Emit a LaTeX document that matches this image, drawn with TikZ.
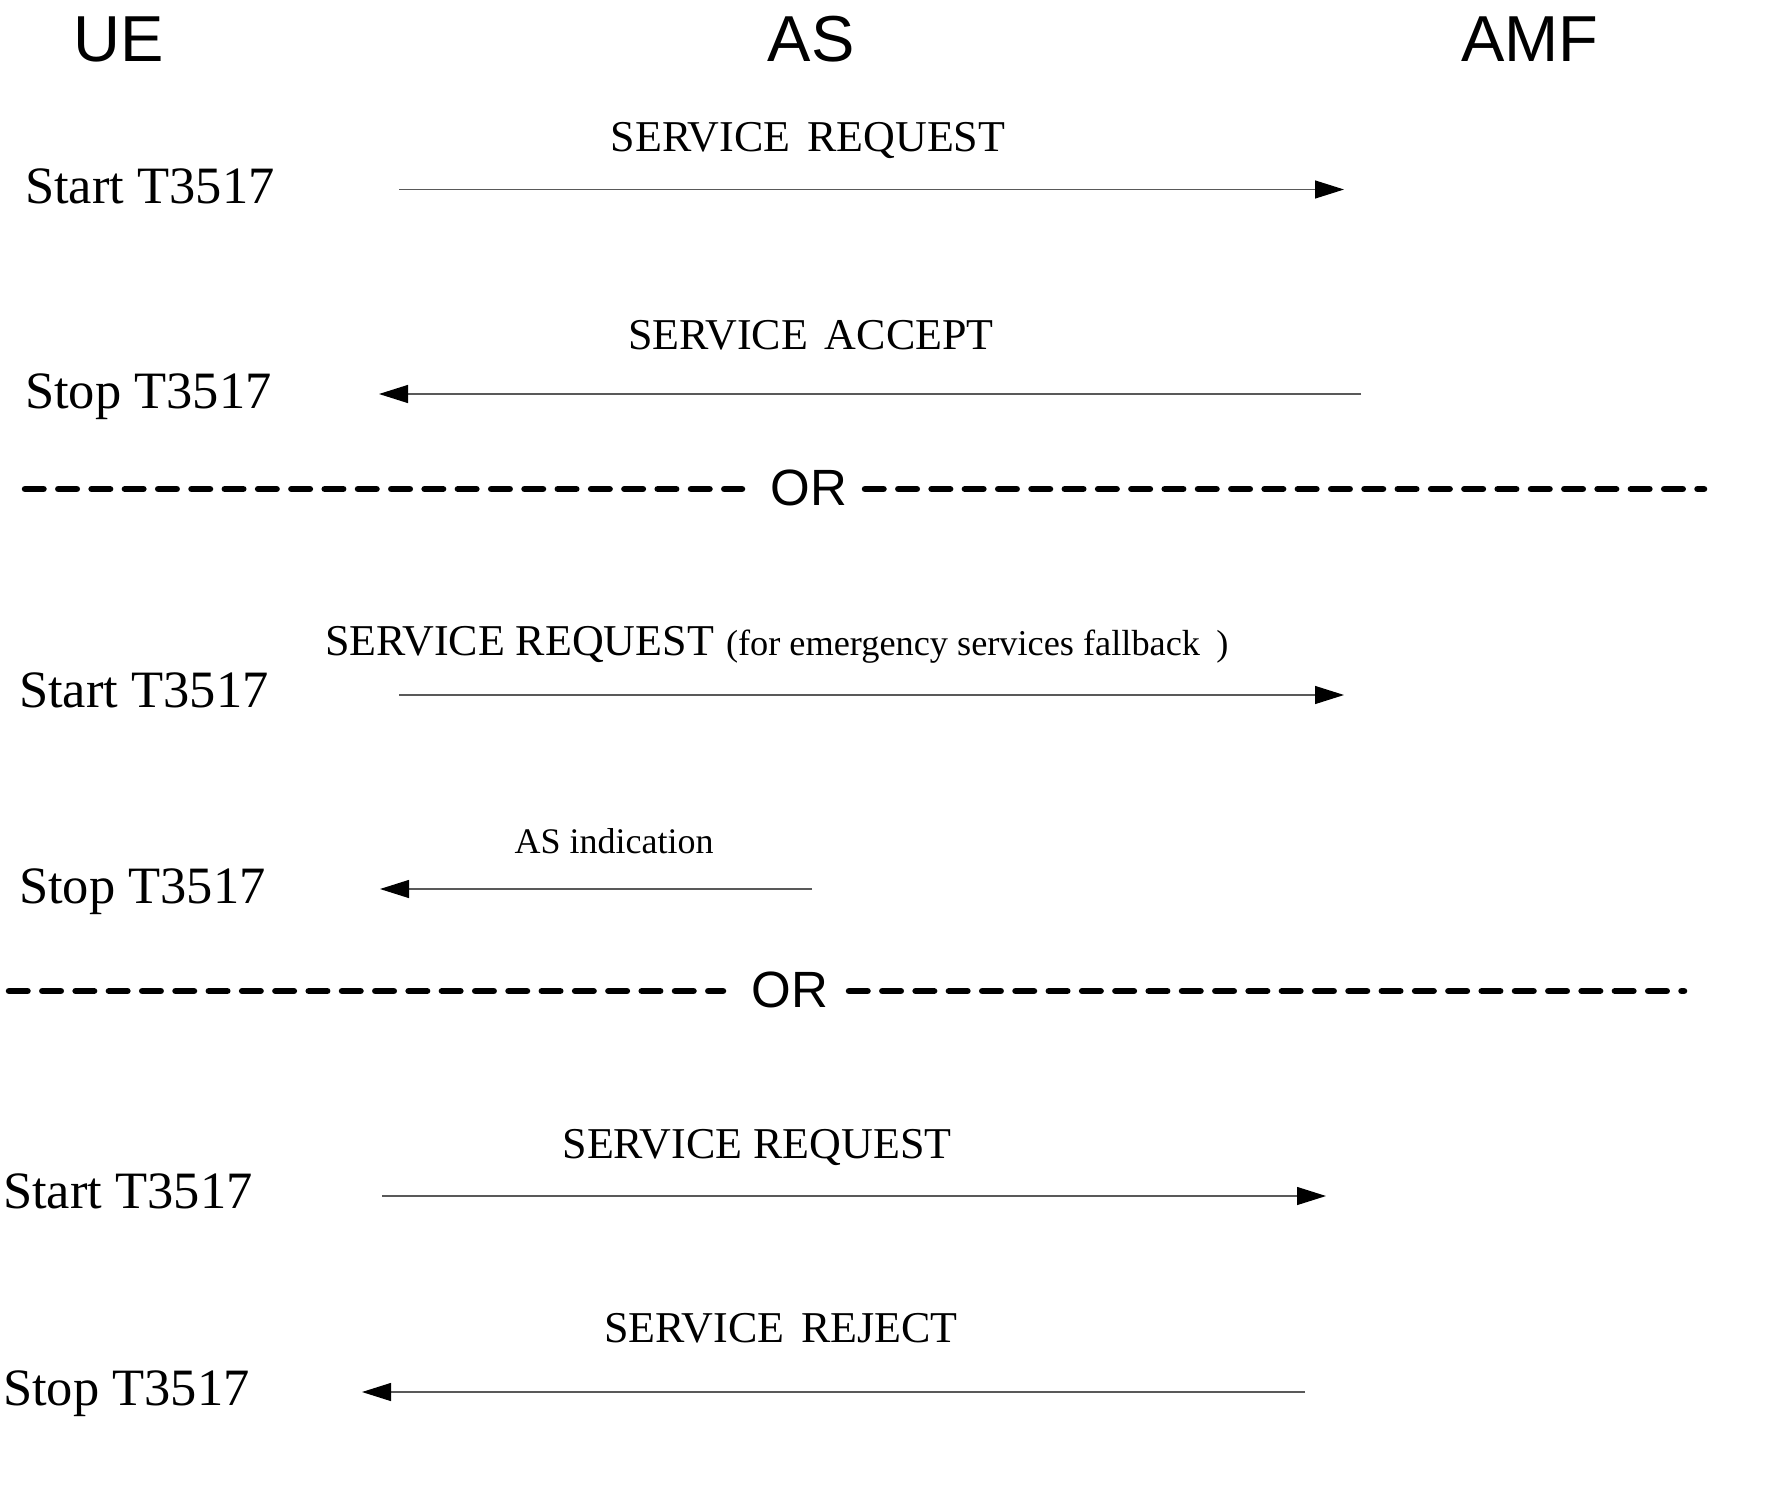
\documentclass[tikz,border=0pt]{standalone}
\usepackage{fontspec}
\setmainfont{Liberation Serif}
\newfontfamily\hdrfont{Liberation Sans}
\usetikzlibrary{arrows.meta}
\begin{document}
\begin{tikzpicture}[x=1pt,y=-1pt,
  hdr/.style={font=\hdrfont\fontsize{65}{70}\selectfont, inner sep=0, anchor=base},
  timer/.style={font=\fontsize{52.5}{56}\selectfont, inner sep=0, anchor=base west},
  msg/.style={font=\fontsize{44}{48}\selectfont, inner sep=0, anchor=base},
  smallmsg/.style={font=\fontsize{36}{40}\selectfont, inner sep=0, anchor=base},
  orlbl/.style={font=\hdrfont\fontsize{51}{56}\selectfont, inner sep=0},
  sepline/.style={line width=6.5pt, line cap=round, dash pattern=on 18.5pt off 14.8pt},
  msgarrow/.style={line width=1.2pt, draw=black!65, -{Triangle[length=29pt,width=18pt,color=black]}}
]
\useasboundingbox (0,0) rectangle (1780,1501);
% headers
\node[hdr] (ue) at (119,62) {UE};
\node[hdr] (as) at (811,62) {AS};
\node[hdr] (amf) at (1530,62) {AMF};

% section 1
\node[msg] (m1) at (808,151) {SERVICE\hspace{0.38em}REQUEST};
\node[timer] (t1) at (25,203) {Start T3517};
\coordinate (a1s) at (399,189.5);
\coordinate (a1e) at (1344,189.5);
\draw[msgarrow] (a1s) -- (a1e);
\node[msg] (m2) at (811,349) {SERVICE\hspace{0.38em}ACCEPT};
\node[timer] (t2) at (25,408) {Stop T3517};
\coordinate (a2s) at (1361,394);
\coordinate (a2e) at (379,394);
\draw[msgarrow] (a2s) -- (a2e);

\node[orlbl] (or1) at (809,488) {OR};
\coordinate (s1a) at (25,489);
\coordinate (s1b) at (742,489);
\coordinate (s1c) at (865,489);
\coordinate (s1d) at (1704,489);
\draw[sepline] (s1a) -- (s1b);
\draw[sepline] (s1c) -- (s1d);

% section 2
\node[msg, anchor=base west] (m3) at (325,655) {SERVICE REQUEST\hspace{12pt}{\fontsize{36.3}{40}\selectfont(for emergency services fallback\hspace{0.45em})}};
\node[timer] (t3) at (19,707) {Start T3517};
\coordinate (a3s) at (399,695);
\coordinate (a3e) at (1344,695);
\draw[msgarrow] (a3s) -- (a3e);
\node[smallmsg] (m4) at (614,853) {AS indication};
\node[timer] (t4) at (19,903) {Stop T3517};
\coordinate (a4s) at (812,889);
\coordinate (a4e) at (380,889);
\draw[msgarrow] (a4s) -- (a4e);

\node[orlbl] (or2) at (790,990) {OR};
\coordinate (s2a) at (9,991);
\coordinate (s2b) at (723,991);
\coordinate (s2c) at (849,991);
\coordinate (s2d) at (1684,991);
\draw[sepline] (s2a) -- (s2b);
\draw[sepline] (s2c) -- (s2d);

% section 3
\node[msg] (m5) at (757,1158) {SERVICE REQUEST};
\node[timer] (t5) at (3,1208) {Start T3517};
\coordinate (a5s) at (382,1196);
\coordinate (a5e) at (1326,1196);
\draw[msgarrow] (a5s) -- (a5e);
\node[msg] (m6) at (781,1342) {SERVICE\hspace{0.38em}REJECT};
\node[timer] (t6) at (3,1405) {Stop T3517};
\coordinate (a6s) at (1305,1392);
\coordinate (a6e) at (362,1392);
\draw[msgarrow] (a6s) -- (a6e);
\end{tikzpicture}
\end{document}
